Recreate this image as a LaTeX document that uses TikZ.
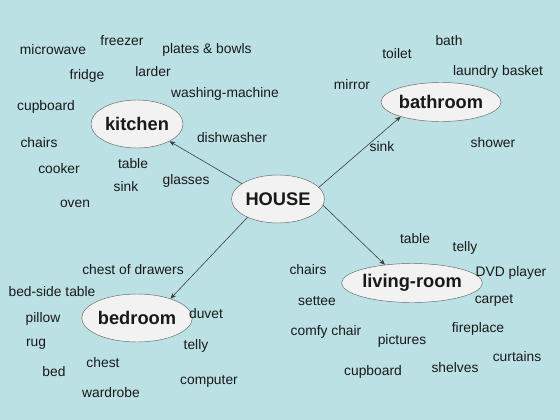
\documentclass[tikz,border=0pt]{standalone}
\usepackage{fontspec}
\setmainfont{Liberation Sans}
\usetikzlibrary{shapes.geometric,arrows.meta}
\definecolor{sky}{RGB}{187,225,228}
\definecolor{bubble}{RGB}{242,242,242}
\definecolor{rim}{RGB}{105,105,105}
\definecolor{ink}{RGB}{25,25,25}
\begin{document}
\begin{tikzpicture}[x=0.03cm,y=-0.03cm,
    word/.style={inner sep=0pt,text=ink,font=\fontsize{11.8}{13}\selectfont},
    room/.style={ellipse,draw=rim,fill=bubble,inner sep=0pt,text=ink,font=\fontsize{15.6}{18}\selectfont\bfseries},
    link/.style={-{Stealth[length=5pt,width=4pt]},draw=ink!85,line width=0.5pt}]
                    \fill[sky] (0,0) rectangle (560,420);

                    \node[room,minimum width=2.79cm,minimum height=1.44cm] (house) at (278,199) {HOUSE};
                    \node[room,minimum width=2.76cm,minimum height=1.44cm] (kitchen) at (137,124) {kitchen};
                    \node[room,minimum width=3.6cm,minimum height=1.17cm] (bathroom) at (441,102) {bathroom};
                    \node[room,minimum width=2.76cm,minimum height=1.44cm] (bedroom) at (137,318) {bedroom};
                    \node[room,minimum width=3.45cm,minimum height=1.17cm] (living) at (412,283) {living-room};

                    \draw[link] (house.157)--(kitchen.332);
                    \draw[link] (house.16)--(bathroom.200);
                    \draw[link] (house.211)--(bedroom.30);
                    \draw[link] (house.-8)--(living.146);

                    \node[word] (k1) at (53,50) {microwave};
                    \node[word] (k2) at (122,41) {freezer};
                    \node[word] (k3) at (207,50) {plates \& bowls};
                    \node[word] (k4) at (87,76) {fridge};
                    \node[word] (k5) at (153,72) {larder};
                    \node[word] (k6) at (225,94) {washing-machine};
                    \node[word] (k7) at (46,107) {cupboard};
                    \node[word] (k8) at (39,143) {chairs};
                    \node[word] (k9) at (232,138) {dishwasher};
                    \node[word] (k10) at (59,169) {cooker};
                    \node[word] (k11) at (133,164) {table};
                    \node[word] (k12) at (186,181) {glasses};
                    \node[word] (k13) at (126,187) {sink};
                    \node[word] (k14) at (75,204) {oven};

                    \node[word] (b1) at (449,41) {bath};
                    \node[word] (b2) at (397,54) {toilet};
                    \node[word] (b3) at (498,72) {laundry basket};
                    \node[word] (b4) at (352,85) {mirror};
                    \node[word] (b5) at (382,147) {sink};
                    \node[word] (b6) at (493,143) {shower};

                    \node[word] (r1) at (133,270) {chest of drawers};
                    \node[word] (r2) at (52,292) {bed-side table};
                    \node[word] (r3) at (43,319) {pillow};
                    \node[word] (r4) at (206,314) {duvet};
                    \node[word] (r5) at (36,344) {rug};
                    \node[word] (r6) at (196,346) {telly};
                    \node[word] (r7) at (103,363) {chest};
                    \node[word] (r8) at (54,372) {bed};
                    \node[word] (r9) at (209,381) {computer};
                    \node[word] (r10) at (111,393) {wardrobe};

                    \node[word] (l1) at (415,239) {table};
                    \node[word] (l2) at (465,248) {telly};
                    \node[word] (l3) at (308,270) {chairs};
                    \node[word] (l4) at (511,273) {DVD player};
                    \node[word] (l5) at (317,301) {settee};
                    \node[word] (l6) at (494,300) {carpet};
                    \node[word] (l7) at (326,332) {comfy chair};
                    \node[word] (l8) at (478,329) {fireplace};
                    \node[word] (l9) at (402,341) {pictures};
                    \node[word] (l10) at (517,357) {curtains};
                    \node[word] (l11) at (455,368) {shelves};
                    \node[word] (l12) at (373,372) {cupboard};
                    \end{tikzpicture}
\end{document}
